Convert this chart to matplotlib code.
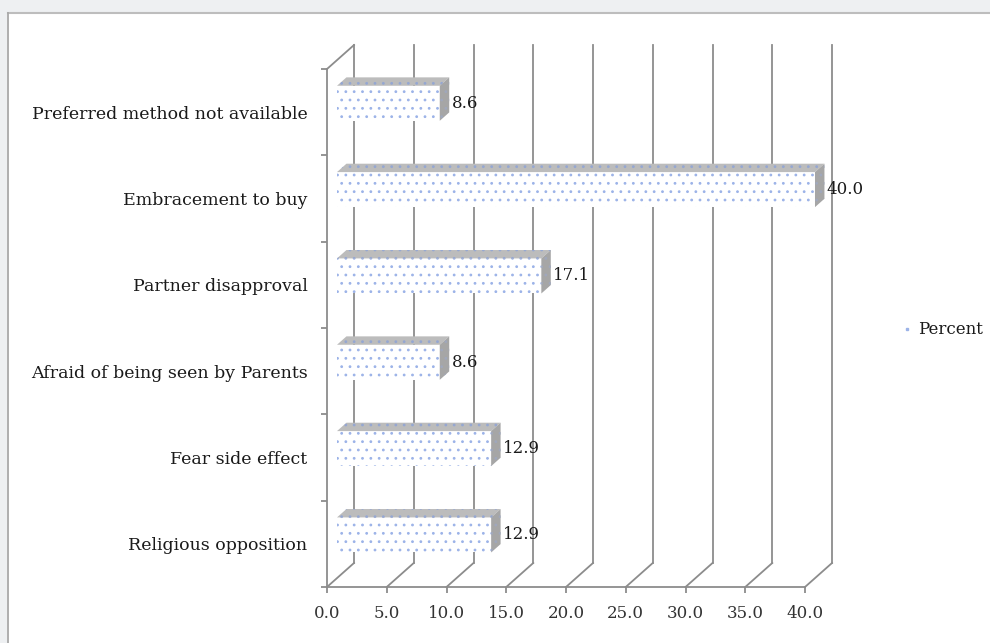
import matplotlib
matplotlib.use("Agg")
import matplotlib.pyplot as plt
from matplotlib.patches import Rectangle, Polygon
from matplotlib.lines import Line2D

# data (bottom to top)
reasons = ["Religious opposition", "Fear side effect", "Afraid of being seen by Parents",
           "Partner disapproval", "Embracement to buy", "Preferred method not available"]
percent = [12.9, 12.9, 8.6, 17.1, 40.0, 8.6]
xticks = [0, 5, 10, 15, 20, 25, 30, 35, 40]
xticklabels = ["0.0", "5.0", "10.0", "15.0", "20.0", "25.0", "30.0", "35.0", "40.0"]

# fake 3-D geometry (data units)
DX, DY = 2.26, 0.278      # depth of the walls
F0, F1 = 0.37, 0.72       # bar depth position as fraction of DX/DY
HALF = 0.203              # half height of a bar face
GRID = "#8c8c8c"
DOTS = "#9cb3e8"

plt.rcParams["font.family"] = ["DejaVu Serif"]
plt.rcParams["hatch.linewidth"] = 0.8

W, H = 990, 643
fig = plt.figure(figsize=(W / 100, H / 100), dpi=100)
fig.patch.set_facecolor("white")

# page background / frame (top and left only)
fig.add_artist(Rectangle((0, 1 - 12 / H), 1, 12 / H, transform=fig.transFigure,
                         facecolor="#eef0f2", edgecolor="none"))
fig.add_artist(Rectangle((0, 0), 7 / W, 1, transform=fig.transFigure,
                         facecolor="#eef0f2", edgecolor="none"))
fig.add_artist(Line2D([7.5 / W, 1], [1 - 13 / H, 1 - 13 / H], transform=fig.transFigure,
                      color="#bdbdbd", lw=1.5))
fig.add_artist(Line2D([7.5 / W, 7.5 / W], [0, 1 - 13 / H], transform=fig.transFigure,
                      color="#a8a8a8", lw=1.3))

ax = fig.add_axes([327 / W, (H - 587) / H, 478 / W, 518 / H])
ax.set_xlim(0, 40)
ax.set_ylim(-0.5, 5.5)
ax.patch.set_alpha(0)

for s in ["top", "right"]:
    ax.spines[s].set_visible(False)
for s in ["left", "bottom"]:
    ax.spines[s].set_color(GRID)
    ax.spines[s].set_linewidth(1.3)

ax.set_xticks(xticks)
ax.set_xticklabels(xticklabels)
ax.tick_params(axis="x", length=4, width=1.3, color=GRID, pad=9,
               labelsize=12, labelcolor="#333333")
ax.set_yticks([i - 0.5 for i in range(len(reasons) + 1)])
ax.set_yticklabels([])
ax.tick_params(axis="y", length=4, width=1.3, color=GRID)
ax.set_yticks(range(len(reasons)), minor=True)
ax.set_yticklabels(reasons, minor=True)
ax.tick_params(axis="y", which="minor", length=0, pad=14, labelsize=12.5,
               labelcolor="#1a1a1a")

# back wall gridlines + floor diagonals
for v in xticks:
    ax.plot([v + DX, v + DX], [-0.5 + DY, 5.5 + DY], color=GRID, lw=1.3,
            clip_on=False, zorder=1)
    ax.plot([v, v + DX], [-0.5, -0.5 + DY], color=GRID, lw=1.3,
            clip_on=False, zorder=1)
# left wall top edge
ax.plot([0, DX], [5.5, 5.5 + DY], color=GRID, lw=1.3, clip_on=False, zorder=1)

# bars
x0 = F0 * DX
ddx = (F1 - F0) * DX
ddy = (F1 - F0) * DY
for i, v in enumerate(percent):
    yc = i + F0 * DY
    front = Rectangle((x0, yc - HALF), v, 2 * HALF, facecolor="white",
                      edgecolor=DOTS, hatch="..", linewidth=0, zorder=3,
                      clip_on=False)
    top = Polygon([(x0, yc + HALF), (x0 + v, yc + HALF),
                   (x0 + v + ddx, yc + HALF + ddy), (x0 + ddx, yc + HALF + ddy)],
                  closed=True, facecolor="#bcbcbc", edgecolor="#95a7d2",
                  hatch="..", linewidth=0, zorder=3, clip_on=False)
    side = Polygon([(x0 + v, yc - HALF), (x0 + v + ddx, yc - HALF + ddy),
                    (x0 + v + ddx, yc + HALF + ddy), (x0 + v, yc + HALF)],
                   closed=True, facecolor="#a6a6a6", edgecolor="#a0a8bc",
                   hatch="..", linewidth=0, zorder=3, clip_on=False)
    for p in (front, top, side):
        ax.add_patch(p)
    ax.text(x0 + v + ddx + 0.2, yc + 0.0, f"{v:.1f}", ha="left", va="center",
            fontsize=12, color="#1a1a1a", zorder=4, clip_on=False)

# legend
handle = Line2D([], [], marker="s", markersize=2, color=DOTS, linestyle="none")
fig.legend(handles=[handle], labels=["Percent"], loc="center left",
           bbox_to_anchor=(888 / W, 1 - 330 / H), frameon=False,
           handlelength=0.5, handletextpad=0.4, fontsize=12, labelcolor="#1a1a1a")

fig.savefig("out.png", dpi=100)
